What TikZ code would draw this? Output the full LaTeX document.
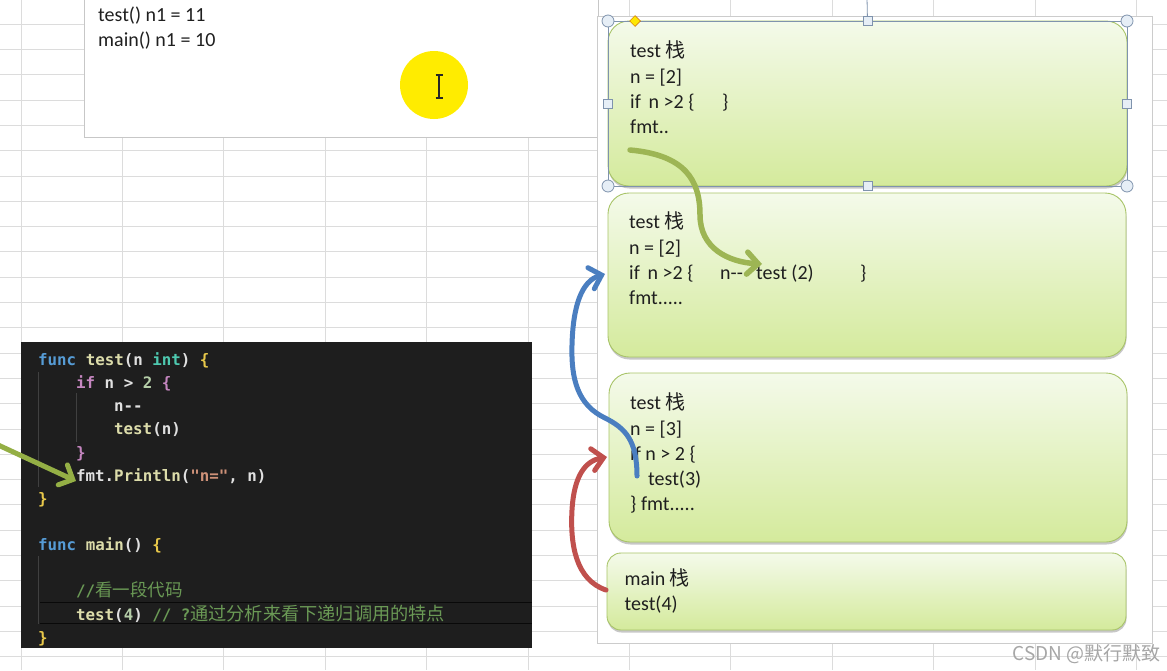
\documentclass[tikz,border=0pt]{standalone}
\usepackage{fontspec}
\setmainfont{Carlito}
\newfontfamily\cjk{Noto Sans CJK SC}
\newfontfamily\codefont{DejaVu Sans Mono}
\usetikzlibrary{arrows.meta,shadows,shapes.geometric}
\definecolor{gridc}{HTML}{DCDCDC}
\definecolor{codebg}{HTML}{1E1E1E}
\definecolor{kwblue}{HTML}{569CD6}
\definecolor{fnyel}{HTML}{DCDCAA}
\definecolor{typet}{HTML}{4EC9B0}
\definecolor{kwpink}{HTML}{C586C0}
\definecolor{numg}{HTML}{B5CEA8}
\definecolor{strc}{HTML}{CE9178}
\definecolor{comg}{HTML}{6A9955}
\definecolor{brk}{HTML}{E8C84A}
\definecolor{plain}{HTML}{E0E0E0}
\definecolor{guide}{HTML}{404040}
\definecolor{boxtop}{HTML}{F4FAEA}
\definecolor{boxbot}{HTML}{D4EA9C}
\definecolor{boxedge}{HTML}{A8C468}
\definecolor{arrgreen}{HTML}{94AF45}
\definecolor{arrblue}{HTML}{4A7EC0}
\definecolor{arrred}{HTML}{C0504D}
\definecolor{selc}{HTML}{7F93AD}
\definecolor{handlefill}{HTML}{E6EEF6}
\definecolor{curyel}{HTML}{FFEC00}
\tikzset{
  stackbox/.style={draw=boxedge, line width=0.9pt, top color=boxtop, bottom color=boxbot,
    inner sep=0pt, outer sep=0pt, anchor=north west,
    drop shadow={shadow xshift=0.5pt, shadow yshift=-2.5pt, opacity=0.22, fill=black}},
  btxt/.style={anchor=base west, inner sep=0pt, text=black!88, font=\fontsize{20}{24}\selectfont},
  ctxt/.style={anchor=base west, inner sep=0pt, font=\codefont\bfseries\fontsize{15.8}{18}\selectfont},
  penarrow/.style={line width=5pt, line cap=round, -{Straight Barb[length=11pt,width=22pt,line cap=round]}},
  handlecirc/.style={circle, draw=selc, fill=handlefill, line width=0.8pt, minimum size=12pt, inner sep=0pt},
  handlesq/.style={rectangle, draw=selc, fill=handlefill, line width=0.8pt, minimum size=9pt, inner sep=0pt}
}
\newcommand{\zh}[1]{{\cjk #1}}
\begin{document}
\begin{tikzpicture}[x=1pt,y=-1pt]
\useasboundingbox (0,0) rectangle (1167,670);
\fill[white] (0,0) rectangle (1167,670);
% spreadsheet grid
\foreach \k in {0,...,11} { \draw[gridc, line width=1pt] ({21+101.4*\k},0) -- ({21+101.4*\k},670); }
\foreach \k in {0,...,25} { \draw[gridc, line width=1pt] (0,{24.2+25.3*\k}) -- (1167,{24.2+25.3*\k}); }

% note box top left
\node[draw=black!22, fill=white, line width=0.8pt, inner sep=0pt, outer sep=0pt, anchor=north west,
      minimum width=514pt, minimum height=140pt] (notes) at (84,-3) {};
\node[btxt] (n1) at (98,21) {test() n1 = 11};
\node[btxt] (n2) at (98,46) {main() n1 = 10};
\node[circle, fill=curyel, minimum size=68pt, inner sep=0pt] (cursor) at (434,85) {};
\draw[black!85, line width=1.1pt] (439,75) -- (439,98) (435.5,75) -- (442.5,75) (435.5,98) -- (442.5,98);

% code panel
\node[fill=codebg, inner sep=0pt, outer sep=0pt, anchor=north west, minimum width=511pt, minimum height=306pt] (code) at (21,342) {};
\draw[guide, line width=0.8pt] (38.5,372) -- (38.5,487) (76.5,393) -- (76.5,442) (38.5,556) -- (38.5,624);
\draw[black!70!codebg, line width=0.9pt] (40,602) -- (532,602) (40,623.5) -- (532,623.5);
\node[ctxt] (c0) at (38,365) {\textcolor{kwblue}{func} \textcolor{fnyel}{test}\textcolor{plain}{(n }\textcolor{typet}{int}\textcolor{plain}{)} \textcolor{brk}{\{}};
\node[ctxt] (c1) at (76,388) {\textcolor{kwpink}{if} \textcolor{plain}{n > }\textcolor{numg}{2} \textcolor{kwpink}{\{}};
\node[ctxt] (c2) at (114,411.5) {\textcolor{plain}{n\mbox{-}\mbox{-}}};
\node[ctxt] (c3) at (114,434.5) {\textcolor{fnyel}{test}\textcolor{plain}{(n)}};
\node[ctxt] (c4) at (76,458) {\textcolor{kwpink}{\}}};
\node[ctxt] (c5) at (76,481) {\textcolor{plain}{fmt.}\textcolor{fnyel}{Println}\textcolor{plain}{(}\textcolor{strc}{"n="}\textcolor{plain}{, n)}};
\node[ctxt] (c6) at (38,504) {\textcolor{brk}{\}}};
\node[ctxt] (c7) at (38,550) {\textcolor{kwblue}{func} \textcolor{fnyel}{main}\textcolor{plain}{() }\textcolor{brk}{\{}};
\node[ctxt] (c8) at (76,596.5) {\textcolor{comg}{//{\cjk\mdseries\fontsize{17.5}{20}\selectfont 看一段代码}}};
\node[ctxt] (c9) at (76,620) {\textcolor{fnyel}{test}\textcolor{plain}{(}\textcolor{numg}{4}\textcolor{plain}{)} \textcolor{comg}{// ?{\cjk\mdseries\fontsize{18.2}{20}\selectfont 通过分析来看下递归调用的特点}}};
\node[ctxt] (c10) at (38,643) {\textcolor{brk}{\}}};

% left green arrow into code
\coordinate (gstart) at (-4,444);
\draw[penarrow, arrgreen] (gstart) -- (c5.base west);

% stack panel
\node[draw=black!20, fill=white, line width=0.8pt, inner sep=0pt, outer sep=0pt, anchor=north west,
      minimum width=555pt, minimum height=627pt] (panel) at (597,16) {};

\node[stackbox, rounded corners=21pt, minimum width=519pt, minimum height=165pt] (s1) at (608,21) {};
\node[stackbox, rounded corners=21pt, minimum width=518pt, minimum height=164pt] (s2) at (608,193) {};
\node[stackbox, rounded corners=21pt, minimum width=518pt, minimum height=169pt] (s3) at (609,373) {};
\node[stackbox, rounded corners=14pt, minimum width=519pt, minimum height=77pt] (s4) at (607,553) {};

% selection handles of first box
\draw[selc, line width=0.8pt] (s1.north west) rectangle (s1.south east);
\draw[selc, line width=0.8pt] (s1.north) -- (867,-2);
\node[handlecirc] (h1) at (s1.north west) {};
\node[handlecirc] (h2) at (s1.north east) {};
\node[handlecirc] (h3) at (s1.south west) {};
\node[handlecirc] (h4) at (s1.south east) {};
\node[handlesq] (h5) at (s1.north) {};
\node[handlesq] (h6) at (s1.south) {};
\node[handlesq] (h7) at (s1.west) {};
\node[handlesq] (h8) at (s1.east) {};
\node[diamond, draw=orange!80!black, fill=yellow!90!orange, line width=0.5pt, minimum size=11pt, inner sep=0pt] (adj) at (635,21) {};

% box 1
\node[btxt] (t1a) at (630,57) {test \zh{栈}};
\node[btxt] (t1b) at (630,83) {n = [2]};
\node[btxt] (t1c) at (630,108) {if\, n >2 \{};
\node[btxt] (t1d) at (722,108) {\}};
\node[btxt] (t1e) at (630,133) {fmt..};
% box 2
\node[btxt] (t2a) at (629,228) {test \zh{栈}};
\node[btxt] (t2b) at (629,254) {n = [2]};
\node[btxt] (t2c) at (629,279) {if\, n >2 \{};
\node[btxt] (t2d) at (720,279) {n\mbox{-}\mbox{-}};
\node[btxt] (t2e) at (756,279) {test (2)};
\node[btxt] (t2f) at (860,279) {\}};
\node[btxt] (t2g) at (629,304.5) {fmt.....};
% box 3
\node[btxt] (t3a) at (630,409) {test \zh{栈}};
\node[btxt] (t3b) at (630,435) {n = [3]};
\node[btxt] (t3c) at (630,460) {if n > 2 \{};
\node[btxt] (t3d) at (648,485) {test(3)};
\node[btxt] (t3e) at (630,510) {\} fmt.....};
% box 4
\node[btxt] (t4a) at (624.5,585) {main \zh{栈}};
\node[btxt] (t4b) at (624.5,610) {test(4)};

% arrows between stack frames
\coordinate (g1) at (630,150);
\coordinate (g2) at (762,264);
\draw[penarrow, line width=5.5pt, arrgreen!92!white] (g1) .. controls (685,155) and (700,180) .. (700,215) .. controls (700,248) and (728,262) .. (g2);
\coordinate (b1) at (637,476);
\coordinate (b2) at (605,274);
\draw[penarrow, arrblue] (b1) .. controls (637,440) and (625,428) .. (605,418) .. controls (578,405) and (571,380) .. (572,345) .. controls (573,305) and (582,281) .. (b2);
\coordinate (r1) at (606,590);
\coordinate (r2) at (607,457);
\draw[penarrow, arrred] (r1) .. controls (576,580) and (570,545) .. (572,510) .. controls (574,476) and (585,461) .. (r2);

% watermark
\node[anchor=base east, inner sep=0pt, text=black!35, font=\cjk\fontsize{19}{22}\selectfont] (wm) at (1161,660) {CSDN @默行默致};
\end{tikzpicture}
\end{document}
